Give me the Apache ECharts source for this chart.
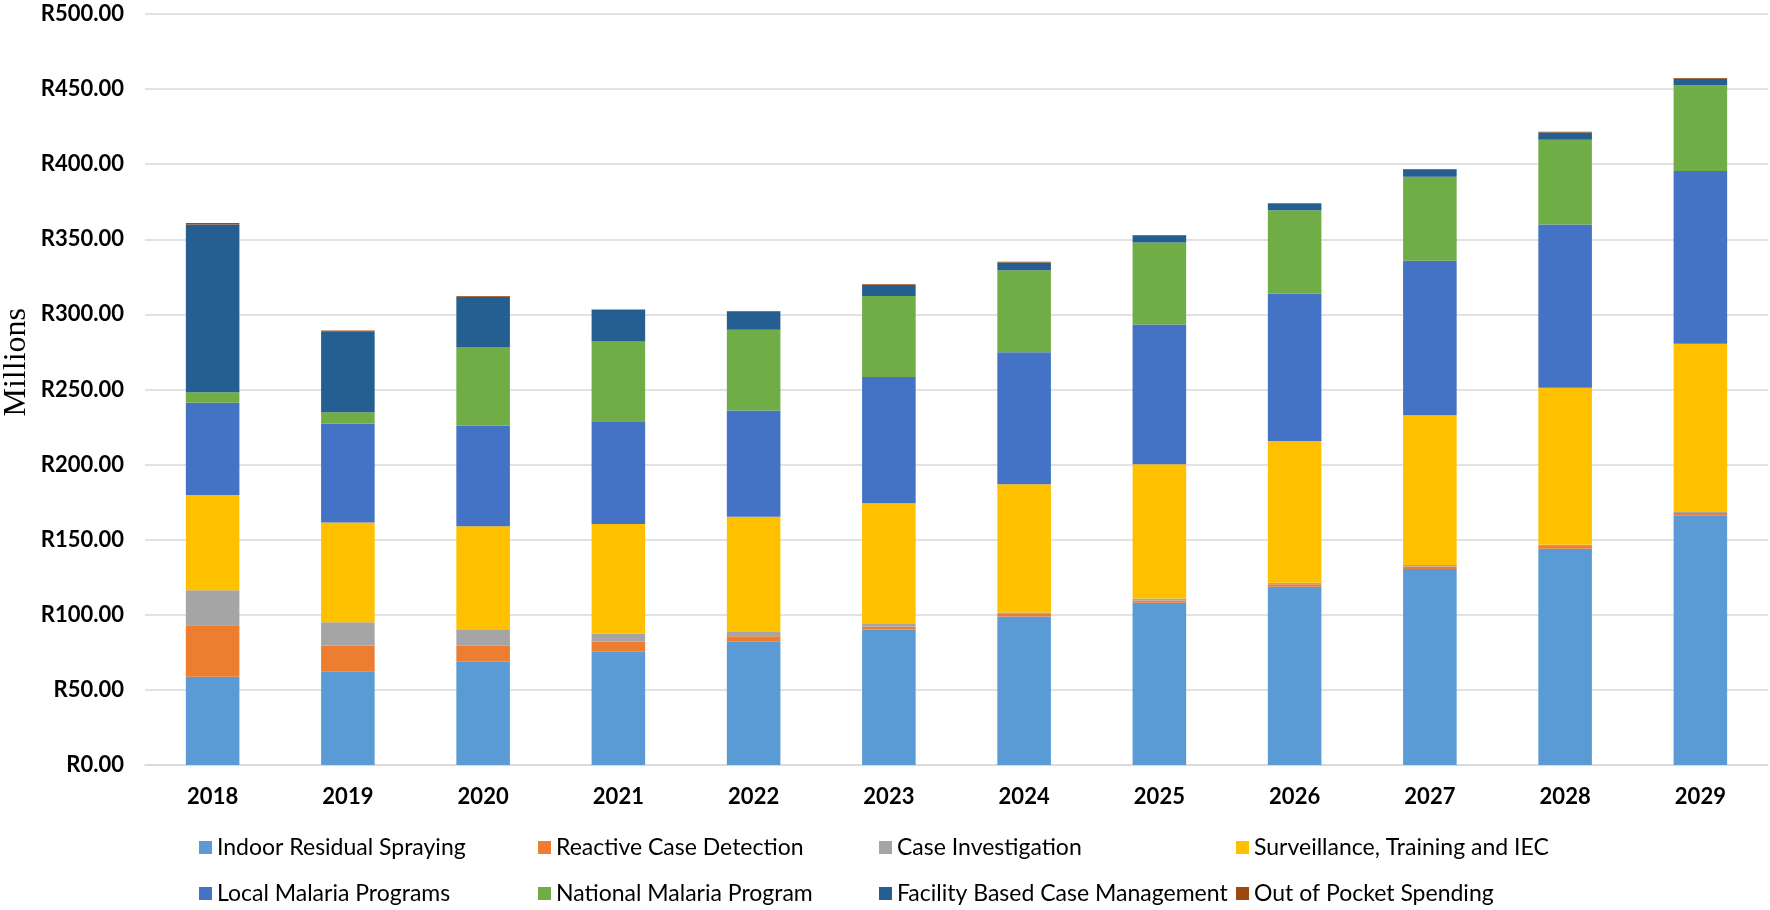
<!DOCTYPE html>
<html>
<head>
<meta charset="utf-8">
<script src="https://cdn.jsdelivr.net/npm/echarts@6/dist/echarts.min.js"></script>
<style>
html,body{margin:0;padding:0;background:#fff;}
#chart{width:1770px;height:910px;}
</style>
</head>
<body>
<div id="chart"></div>
<script>
const years = ['2018','2019','2020','2021','2022','2023','2024','2025','2026','2027','2028','2029'];
const irs  = [58.7, 62.5, 68.7, 75.4, 82.0, 90.2, 98.9, 108.0, 118.7, 130.5, 143.9, 166.0];
const rcd  = [34.4, 16.9, 10.7, 6.6, 3.8, 2.0, 1.7, 1.6, 1.6, 1.6, 1.9, 1.7];
const ci   = [23.3, 15.7, 10.4, 5.4, 2.7, 1.6, 0.9, 1.2, 1.0, 1.1, 0.8, 0.8];
const sti  = [63.3, 66.4, 69.2, 73.1, 76.7, 80.5, 85.4, 89.4, 94.4, 99.7, 104.5, 112.0];
const lmp  = [61.4, 65.9, 66.9, 68.3, 70.9, 84.0, 87.9, 93.0, 98.2, 102.9, 108.8, 114.9];
const nmp  = [7.1, 7.5, 52.1, 53.2, 53.7, 53.9, 54.6, 54.7, 55.4, 55.9, 56.4, 57.1];
const fbcm = [111.7, 53.9, 33.8, 20.9, 12.0, 7.4, 5.2, 4.5, 4.2, 4.6, 4.8, 4.4];
const oop  = [0.9, 0.5, 0.4, 0.4, 0.4, 0.4, 0.5, 0.5, 0.5, 0.5, 0.5, 0.5];
const yTicks = {min: 0, max: 500, interval: 50};

const seriesDefs = [
  ['Indoor Residual Spraying', irs, '#5B9BD5'],
  ['Reactive Case Detection', rcd, '#ED7D31'],
  ['Case Investigation', ci, '#A5A5A5'],
  ['Surveillance, Training and IEC', sti, '#FFC000'],
  ['Local Malaria Programs', lmp, '#4472C4'],
  ['National Malaria Program', nmp, '#70AD47'],
  ['Facility Based Case Management', fbcm, '#255E91'],
  ['Out of Pocket Spending', oop, '#9E480E']
];

const font = 'Lato, "Open Sans", sans-serif';
const legendCols = [
  [199, ['Indoor Residual Spraying', 'Local Malaria Programs']],
  [538, ['Reactive Case Detection', 'National Malaria Program']],
  [879, ['Case Investigation', 'Facility Based Case Management']],
  [1236, ['Surveillance, Training and IEC', 'Out of Pocket Spending']]
];

const chart = echarts.init(document.getElementById('chart'));
chart.setOption({
  animation: false,
  backgroundColor: '#ffffff',
  grid: {left: 145, right: 2, top: 14, bottom: 145, containLabel: false},
  legend: legendCols.map(c => ({
    orient: 'vertical',
    left: c[0],
    top: 836,
    padding: 0,
    itemWidth: 13,
    itemHeight: 13,
    itemGap: 23,
    icon: 'rect',
    data: c[1],
    selectedMode: false,
    textStyle: {fontFamily: font, fontSize: 23, color: '#000'}
  })),
  graphic: [{
    type: 'text',
    left: 1,
    top: 308,
    rotation: Math.PI / 2,
    style: {text: 'Millions', font: '32px "Liberation Serif", "DejaVu Serif", serif', fill: '#000'}
  }],
  xAxis: {
    type: 'category',
    data: years,
    axisLine: {lineStyle: {color: '#d9d9d9', width: 1.5}},
    axisTick: {show: false},
    axisLabel: {fontFamily: font, fontSize: 22, fontWeight: 'bold', color: '#000', margin: 21}
  },
  yAxis: {
    type: 'value',
    min: yTicks.min, max: yTicks.max, interval: yTicks.interval,
    axisLine: {show: false},
    axisTick: {show: false},
    splitLine: {lineStyle: {color: '#d9d9d9', width: 1.5}},
    axisLabel: {
      fontFamily: font, fontSize: 22, fontWeight: 'bold', color: '#000', margin: 21,
      formatter: v => 'R' + v.toFixed(2)
    }
  },
  series: seriesDefs.map(d => ({
    name: d[0],
    type: 'bar',
    stack: 'total',
    data: d[1],
    barWidth: '39.6%',
    itemStyle: {color: d[2]}
  }))
});
</script>
</body>
</html>
